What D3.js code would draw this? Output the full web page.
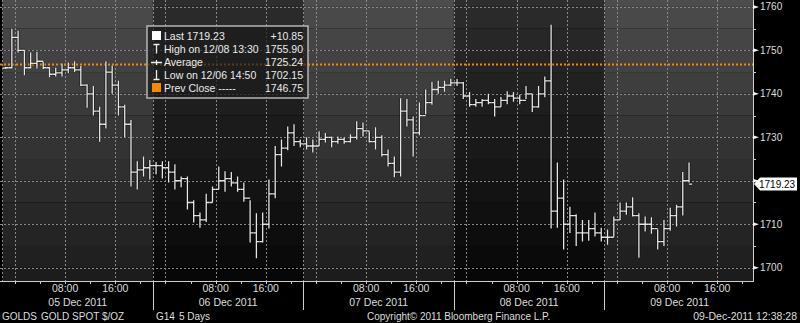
<!DOCTYPE html>
<html>
<head>
<meta charset="utf-8">
<script src="https://cdn.jsdelivr.net/npm/d3@7"></script>
<style>
  body { margin: 0; background: #000; }
  svg { display: block; font-family: "Liberation Sans", Arial, sans-serif; }
</style>
</head>
<body>
<script>
const largura = 800
const altura = 323
const area = {esq: 0, dir: 753, topo: 0, base: 281}

// one bar per hour, hour 0 = 05 Dec 2011 00:00
const horaInicial = -2
const aberturaInicial = 1745.9
const maximas = [1746.2,1755,1754.5,1750,1749.5,1749.6,1747.3,1746.2,1746,1747,1747.2,1747.5,1746.4,1742.2,1741.8,1737,
  1747.5,1746.5,1743,1737.5,1734,1724.5,1725.6,1724.8,1724.3,1724.5,1724.5,1723.8,1721,1721,1715.5,1712.7,
  1717,1718.7,1723.3,1722.2,1722,1721,1719.6,1715.5,1712.5,1712.7,1720.3,1728,1729.5,1732.5,1733,1729.5,
  1730,1729.5,1731.4,1731,1730.2,1730.2,1730,1730.7,1733.7,1733.4,1731.4,1732.3,1730.5,1727.2,1725.6,1739,
  1738.8,1734.8,1738,1741,1742.7,1743,1743,1743.4,1743.4,1742.7,1740.4,1738.8,1738.8,1740,1738.8,1739.3,
  1740.6,1740.4,1739.8,1741.8,1740,1741.8,1744,1755.9,1724.2,1720.3,1714,1712.3,1711,1711,1712.7,1709.2,
  1708.8,1711.8,1715,1715,1716.2,1712.5,1711.8,1711.6,1708.8,1711,1713.8,1714.5,1722,1724.2]
const minimas = [1745.7,1745.8,1749.5,1744.3,1745.8,1745.8,1745.7,1743.8,1744,1744,1744.8,1745,1741.8,1736.8,1735,1729,
  1732,1740,1735,1730,1718.7,1718,1721,1720.3,1721.5,1720.5,1719.6,1718,1718.5,1713.4,1710.4,1709.2,
  1710.5,1715,1718,1717.5,1718.7,1717.5,1715.2,1705.8,1702.15,1705.8,1709,1716,1723.3,1727,1728,1727.7,
  1727.2,1726.5,1728,1728.8,1727.7,1728.5,1728.5,1728.8,1729.5,1730.2,1728.8,1727.2,1725.6,1723.3,1720.8,1721,
  1732.5,1725.6,1730.5,1735.3,1737.5,1740,1740.5,1741.8,1741.8,1738.8,1737,1737,1737,1737.6,1734.8,1737,
  1737.6,1738.2,1737.6,1738.8,1735.8,1736.8,1739.2,1709,1709.2,1704.2,1708,1705,1706,1706.2,1707.2,1706,
  1705.3,1707.2,1711,1712.2,1711.8,1702.3,1708.3,1707.8,1704.2,1705,1708.5,1709.5,1712,1719.6]
const fechamentos = [1746,1753,1750,1746,1747,1747.5,1746,1744.5,1744.8,1745.5,1746,1745.5,1742,1740,1736,1733,
  1745,1742,1737,1733,1722,1722.5,1723,1723.5,1723.5,1723,1722,1720,1720.5,1715,1712,1711,
  1715,1718,1720,1720.5,1719.5,1718,1716,1708,1706,1710,1717,1726,1727.5,1731,1729,1728.5,
  1728,1728,1729.5,1730,1729,1729.5,1729,1730,1732,1731.5,1729,1730,1726,1724,1722,1736,
  1734,1731,1735,1738,1741,1741.5,1742,1742.5,1742.5,1739.5,1737.5,1738,1738.5,1738,1737,1738.5,
  1739.5,1739,1738.5,1740,1737,1740,1743,1713,1716,1710,1712,1708,1708,1709,1708,1707,
  1707,1711,1713,1714,1712,1710,1710,1709,1706,1709,1712,1714,1720,1719.23]

const dias = ['05 Dec 2011', '06 Dec 2011', '07 Dec 2011', '08 Dec 2011', '09 Dec 2011']
const rotulosHora = ['08:00', '16:00']
const precos = [1700, 1710, 1720, 1730, 1740, 1750, 1760]
const fechamentoAnterior = 1746.75
const ultimo = 1719.23

const legenda = [
  {nome: 'Last 1719.23', valor: '+10.85'},
  {nome: 'High on 12/08 13:30', valor: '1755.90'},
  {nome: 'Average', valor: '1725.24'},
  {nome: 'Low on 12/06 14:50', valor: '1702.15'},
  {nome: 'Prev Close -----', valor: '1746.75'}
]
const rodape = [
  {texto: 'GOLDS', x: 2}, {texto: 'GOLD SPOT $/OZ', x: 41}, {texto: 'G14', x: 156}, {texto: '5 Days', x: 179},
  {texto: 'Copyright\u00a9 2011 Bloomberg Finance L.P.', x: 367}
]

var barras = maximas.map(function (m, i) {
  return {hora: horaInicial + i, alta: m, baixa: minimas[i], fecha: fechamentos[i],
          abre: i == 0 ? aberturaInicial : fechamentos[i - 1]}
})

var escalaX = d3.scaleLinear().domain([-2.39, 117.7]).range([area.esq, area.dir])
var escalaY = d3.scaleLinear().domain([1700, 1760]).range([267.7, 6.9])

var svg = d3.select('body').append('svg').attr('width', largura).attr('height', altura)
svg.append('rect').attr('width', largura).attr('height', altura).attr('fill', '#000')

// day columns: 22:00 to 22:00, every other one darker
var separadores = d3.range(-2, 118, 24)
var claro = d3.interpolateRgb('#4d4d4d', '#1c1c1c')
var escuro = d3.interpolateRgb('#2d2d2d', '#070707')
var faixas = d3.range(1765, 1695, -5)
separadores.forEach(function (h, k) {
  var x0 = Math.max(area.esq, escalaX(h))
  var x1 = Math.min(area.dir, escalaX(h + 24))
  faixas.forEach(function (v, j) {
    var y0 = Math.max(area.topo, escalaY(v))
    var y1 = Math.min(area.base, escalaY(v - 5))
    var t = j / (faixas.length - 1)
    svg.append('rect')
      .attr('x', x0).attr('y', y0)
      .attr('width', x1 - x0).attr('height', y1 - y0)
      .attr('fill', k % 2 == 1 ? escuro(t) : claro(t))
  })
})

// dotted grid
var grade = svg.append('g').attr('stroke', '#8a8a8a').attr('stroke-width', 1).attr('stroke-dasharray', '2,2')
grade.selectAll('.gh').data(precos).enter().append('line')
  .attr('x1', area.esq).attr('x2', area.dir)
  .attr('y1', function (d) { return Math.round(escalaY(d)) + 0.5 })
  .attr('y2', function (d) { return Math.round(escalaY(d)) + 0.5 })
grade.selectAll('.gv').data(d3.range(0, 118, 8).concat(separadores)).enter().append('line')
  .attr('y1', area.topo).attr('y2', area.base)
  .attr('x1', function (d) { return Math.round(escalaX(d)) + 0.5 })
  .attr('x2', function (d) { return Math.round(escalaX(d)) + 0.5 })

// previous close
svg.append('line')
  .attr('x1', area.esq).attr('x2', area.dir)
  .attr('y1', escalaY(fechamentoAnterior)).attr('y2', escalaY(fechamentoAnterior))
  .attr('stroke', '#f58a00').attr('stroke-width', 2).attr('stroke-dasharray', '2,2')

// price bars, open/close ticks joined into a stair line
var meia = (escalaX(1) - escalaX(0)) / 2
function caminhoBarra(d) {
  var x = escalaX(d.hora + 0.5)
  return 'M' + (x - meia) + ',' + escalaY(d.abre) + 'H' + x +
         'M' + x + ',' + escalaY(d.alta) + 'V' + escalaY(d.baixa) +
         'M' + x + ',' + escalaY(d.fecha) + 'H' + (x + meia)
}
svg.append('g').selectAll('path').data(barras).enter().append('path')
  .attr('d', caminhoBarra).attr('fill', 'none')
  .attr('stroke', '#000').attr('stroke-opacity', 0.45).attr('stroke-width', 3)
svg.append('g').selectAll('path').data(barras).enter().append('path')
  .attr('d', caminhoBarra).attr('fill', 'none')
  .attr('stroke', '#e6e6e6').attr('stroke-width', 1.3)

// legend
var caixa = svg.append('g').attr('transform', 'translate(147,26)')
caixa.append('rect').attr('width', 161).attr('height', 72)
  .attr('fill', 'rgba(28,28,28,0.72)').attr('stroke', '#b5b5b5').attr('stroke-width', 1.5)
caixa.selectAll('.nome').data(legenda).enter().append('text')
  .attr('x', 17).attr('y', function (d, i) { return 13.5 + i * 13.1 })
  .attr('fill', '#ececec').style('font-size', '10.5px').text(function (d) { return d.nome })
caixa.selectAll('.valor').data(legenda).enter().append('text')
  .attr('x', 156).attr('y', function (d, i) { return 13.5 + i * 13.1 })
  .attr('text-anchor', 'end').attr('fill', '#ececec').style('font-size', '10.5px').text(function (d) { return d.valor })
caixa.append('rect').attr('x', 5).attr('y', 5).attr('width', 9).attr('height', 9).attr('fill', '#fff')
caixa.append('path').attr('d', 'M6.5,18.5H12.5M9.5,18.5V27.5M4,36.5H15M9.5,34V39M9.5,44V53.5M6.5,53.5H12.5')
  .attr('stroke', '#eee').attr('stroke-width', 1.3).attr('fill', 'none')
caixa.append('rect').attr('x', 5).attr('y', 57).attr('width', 9).attr('height', 9).attr('fill', '#f58a00')

// bottom axis
var eixoX = svg.append('g').attr('fill', '#dedede').style('font-size', '10.5px')
eixoX.append('line').attr('x1', area.esq).attr('x2', area.dir + 1)
  .attr('y1', area.base + 0.5).attr('y2', area.base + 0.5).attr('stroke', '#cfcfcf')
eixoX.selectAll('.tick').data(d3.range(0, 118, 4)).enter().append('line')
  .attr('x1', function (d) { return Math.round(escalaX(d)) + 0.5 })
  .attr('x2', function (d) { return Math.round(escalaX(d)) + 0.5 })
  .attr('y1', area.base).attr('y2', area.base + 3).attr('stroke', '#cfcfcf')
eixoX.selectAll('.sep').data(separadores.slice(1)).enter().append('line')
  .attr('x1', function (d) { return Math.round(escalaX(d)) + 0.5 })
  .attr('x2', function (d) { return Math.round(escalaX(d)) + 0.5 })
  .attr('y1', area.base).attr('y2', 310).attr('stroke', '#cfcfcf')
var horas = []
dias.forEach(function (dia, k) {
  rotulosHora.forEach(function (r, j) { horas.push({h: 24 * k + 8 * (j + 1), r: r}) })
})
eixoX.selectAll('.hora').data(horas).enter().append('text')
  .attr('x', function (d) { return escalaX(d.h) }).attr('y', 292)
  .attr('text-anchor', 'middle').text(function (d) { return d.r })
eixoX.selectAll('.dia').data(dias).enter().append('text')
  .attr('x', function (d, k) { return escalaX(24 * k + 10) }).attr('y', 306)
  .attr('text-anchor', 'middle').text(function (d) { return d })

// right axis (the label under the last-price flag stays hidden)
var eixoY = svg.append('g').attr('fill', '#dedede').style('font-size', '10px')
eixoY.append('line').attr('x1', area.dir + 0.5).attr('x2', area.dir + 0.5)
  .attr('y1', area.topo).attr('y2', area.base).attr('stroke', '#cfcfcf')
eixoY.selectAll('.menor').data(d3.range(1705, 1760, 10)).enter().append('line')
  .attr('x1', area.dir).attr('x2', area.dir + 3)
  .attr('y1', function (d) { return Math.round(escalaY(d)) + 0.5 })
  .attr('y2', function (d) { return Math.round(escalaY(d)) + 0.5 })
  .attr('stroke', '#cfcfcf')
eixoY.selectAll('.marca').data(precos).enter().append('path')
  .attr('d', function (d) { var y = escalaY(d); return 'M' + area.dir + ',' + (y - 2) + 'L' + (area.dir + 6) + ',' + y + 'L' + area.dir + ',' + (y + 2) + 'Z' })
  .attr('fill', '#f0f0f0')
eixoY.selectAll('.rotulo').data(precos.filter(function (p) { return Math.abs(escalaY(p) - escalaY(ultimo)) > 10 }))
  .enter().append('text')
  .attr('x', 760).attr('y', function (d) { return escalaY(d) + 3.5 })
  .text(function (d) { return d })

// last price flag
var yU = escalaY(ultimo)
svg.append('path')
  .attr('d', 'M' + (area.dir + 1) + ',' + yU + 'L' + (area.dir + 7) + ',' + (yU - 6.5) + 'H797V' + (yU + 6.5) + 'H' + (area.dir + 7) + 'Z')
  .attr('fill', '#fff')
svg.append('text').attr('x', 759).attr('y', yU + 3.6).attr('fill', '#000')
  .style('font-size', '10px').text(ultimo.toFixed(2))

// footer
svg.selectAll('.rodape').data(rodape).enter().append('text')
  .attr('x', function (d) { return d.x }).attr('y', 320)
  .attr('fill', '#dedede').style('font-size', '10px').text(function (d) { return d.texto })
svg.append('text').attr('x', 797).attr('y', 320).attr('text-anchor', 'end')
  .attr('fill', '#dedede').style('font-size', '10.5px').text('09-Dec-2011 12:38:28')
</script>
</body>
</html>
